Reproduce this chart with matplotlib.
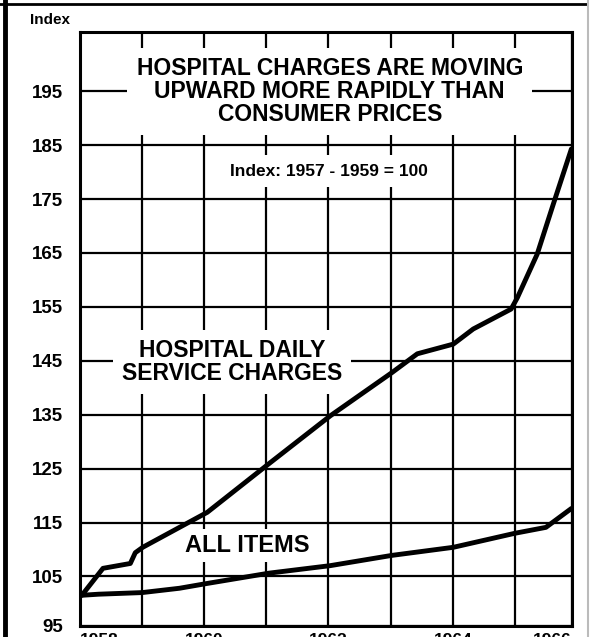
import matplotlib.pyplot as plt
from matplotlib.lines import Line2D

plt.rcParams['font.family'] = ['Liberation Sans', 'DejaVu Sans']
plt.rcParams['font.weight'] = 'bold'

# hospital daily service charges (index, 1957-59 = 100)
hosp_year = [1958.03, 1958.37, 1958.81, 1958.89, 1959.01, 1960.05, 1961.04, 1962.03,
             1963.02, 1963.43, 1964.01, 1964.33, 1964.94, 1965.04, 1965.36, 1965.62, 1965.91]
hosp_index = [101.5, 106.5, 107.4, 109.4, 110.4, 116.9, 125.9, 134.8,
              142.8, 146.3, 148.1, 150.9, 154.6, 156.7, 164.8, 174.1, 184.3]

# consumer prices, all items
cpi_year = [1958.03, 1958.3, 1959.0, 1959.6, 1960.05, 1961.04, 1962.03, 1963.02,
            1964.01, 1965.0, 1965.5, 1965.91]
cpi_index = [101.5, 101.7, 102.0, 102.8, 103.7, 105.6, 107.0, 108.9,
             110.4, 113.0, 114.1, 117.6]

y_ticks = [105, 115, 125, 135, 145, 155, 165, 175, 185, 195]
x_labels = ['1958', '', '1960', '', '1962', '', '1964', '', '1966']

x_left, x_right = 1958.0, 1965.92
y_bottom, y_top = 95.8, 206.0

fig = plt.figure(figsize=(5.94, 6.37), dpi=100)
ax = fig.add_axes([80 / 594, 11 / 637, 492 / 594, 594 / 637])

ax.plot(hosp_year, hosp_index, color='black', lw=3.5, solid_capstyle='round',
        solid_joinstyle='round', zorder=5)
ax.plot(cpi_year, cpi_index, color='black', lw=3.5, solid_capstyle='round',
        solid_joinstyle='round', zorder=5)

ax.set_xlim(x_left, x_right)
ax.set_ylim(y_bottom, y_top)

xt = list(range(1958, 1966)) + [x_right]
ax.set_xticks(xt)
ax.set_xticklabels(x_labels, fontsize=12.5, fontweight='bold')
tl = ax.get_xticklabels()
tl[0].set_ha('left')
tl[-1].set_ha('right')

ax.set_yticks([y_bottom] + y_ticks)
ax.set_yticklabels(['95'] + [str(v) for v in y_ticks], fontsize=13.5, fontweight='bold')
ax.tick_params(length=0, pad=12)
ax.tick_params(axis='x', pad=5)

ax.grid(True, color='black', lw=1.6, zorder=1)
ax.set_axisbelow(True)
for s in ax.spines.values():
    s.set_linewidth(2.2)

box = dict(facecolor='white', edgecolor='none', boxstyle='square,pad=0.4')
ax.text(1962.02, 195, 'HOSPITAL CHARGES ARE MOVING\nUPWARD MORE RAPIDLY THAN\nCONSUMER PRICES',
        ha='center', va='center', fontsize=16.5, fontweight='bold', linespacing=1.0,
        bbox=box, zorder=3)
ax.text(1962.0, 180.2, 'Index: 1957 - 1959 = 100', ha='center', va='center',
        fontsize=12.5, fontweight='bold',
        bbox=dict(facecolor='white', edgecolor='none', boxstyle='square,pad=0.5'), zorder=3)
ax.text(1960.45, 144.8, 'HOSPITAL DAILY\nSERVICE CHARGES', ha='center', va='center',
        fontsize=16.5, fontweight='bold', linespacing=1.0, bbox=box, zorder=3)
ax.text(1960.7, 110.7, 'ALL ITEMS', ha='center', va='center', fontsize=17,
        fontweight='bold', bbox=dict(facecolor='white', edgecolor='none',
                                     boxstyle='square,pad=0.2'), zorder=3)

fig.text(30 / 594, 1 - 20 / 637, 'Index', ha='left', va='center', fontsize=11,
         fontweight='bold')

# page border of the scanned figure
fig.add_artist(Line2D([5 / 594, 5 / 594], [0, 1], color='black', lw=3.5))
fig.add_artist(Line2D([0, 586 / 594], [1 - 4 / 637, 1 - 4 / 637], color='black', lw=2))
fig.add_artist(Line2D([588 / 594, 588 / 594], [0, 1], color='#bbbbbb', lw=1.5))

fig.savefig('out.png', dpi=100)
